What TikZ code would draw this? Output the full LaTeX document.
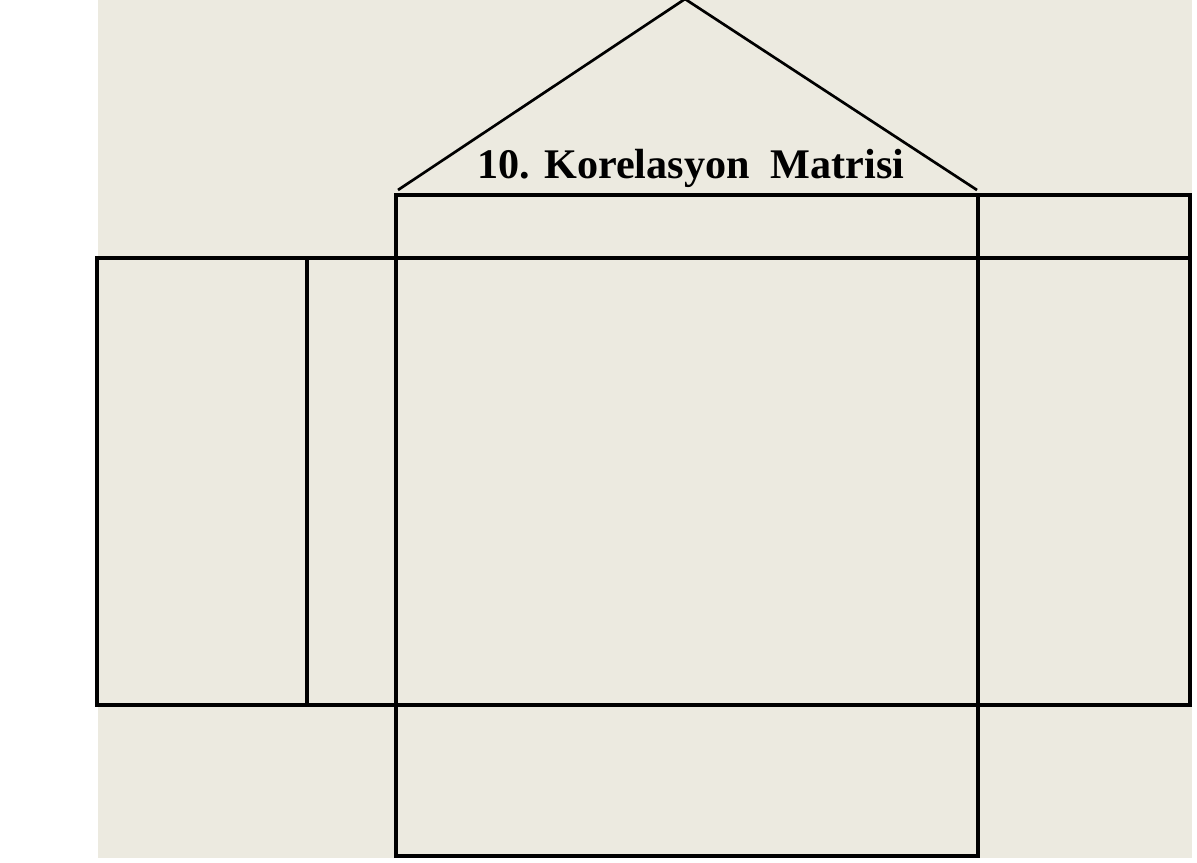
\documentclass[tikz,border=0pt]{standalone}
\usepackage{fontspec}
\setmainfont{Liberation Serif}
\usetikzlibrary{positioning}
\definecolor{hqbeige}{RGB}{236,234,224}

\begin{document}
\begin{tikzpicture}[x=.025cm,y=-.025cm,box/.style={line width=2.6pt},roof/.style={line width=1.9pt}]
\useasboundingbox (0,0) rectangle (1197,862);
\fill[hqbeige] (98,0) rectangle (1192,858);
% roof
\coordinate (apex) at (685,-1);
\coordinate (roofL) at (398,190);
\coordinate (roofR) at (977,190);
\draw[roof] (roofL)--(apex)--(roofR);
\node[font=\fontsize{30}{34}\selectfont\bfseries,inner sep=0pt,anchor=base] (title) at (691,178) {10. Korelasyon\ \ Matrisi};
% rooms
\draw[box] (396,195) rectangle (978,258);
\draw[box] (978,195) rectangle (1190,258);
\draw[box] (97,258) rectangle (1190,705);
\foreach \x in {307,396,978}{\draw[box] (\x,258)--(\x,705);}
\draw[box] (396,705) rectangle (978,856);
\end{tikzpicture}
\end{document}
